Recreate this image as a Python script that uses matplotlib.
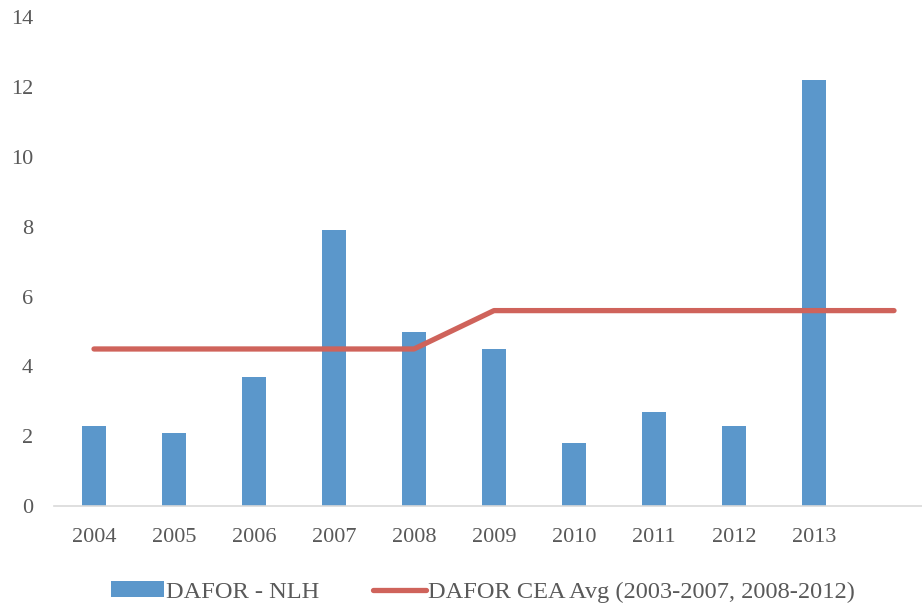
import matplotlib.pyplot as plt
import numpy as np

# DAFOR per year and CEA average reference line
years = ['2004', '2005', '2006', '2007', '2008', '2009', '2010', '2011', '2012', '2013', '']
dafor_nlh = [2.3, 2.1, 3.7, 7.9, 5.0, 4.5, 1.8, 2.7, 2.3, 12.2]
cea_avg = [4.5, 4.5, 4.5, 4.5, 4.5, 5.6, 5.6, 5.6, 5.6, 5.6, 5.6]

plt.rcParams['font.family'] = ['Liberation Serif', 'DejaVu Serif']
text_color = '#595959'

fig = plt.figure(figsize=(9.22, 6.09), dpi=100)
ax = fig.add_axes([54 / 922, 1 - 506 / 609, 880 / 922, (506 - 17.5) / 609])

x = np.arange(len(years))
ax.bar(x[:len(dafor_nlh)], dafor_nlh, width=0.3, color='#5B97CB', label='DAFOR - NLH', zorder=2)
ax.plot(x, cea_avg, color='#CF635B', linewidth=3.8, solid_capstyle='round',
        label='DAFOR CEA Avg (2003-2007, 2008-2012)', zorder=3)

ax.set_xlim(-0.5, len(years) - 0.5)
ax.set_ylim(0, 14)
ax.set_yticks(range(0, 15, 2))
ax.set_xticks(x)
ax.set_xticklabels(years)

for side in ['top', 'right', 'left']:
    ax.spines[side].set_visible(False)
ax.spines['bottom'].set_color('#D9D9D9')
ax.spines['bottom'].set_linewidth(1.2)
ax.tick_params(axis='both', length=0, labelsize=16, colors=text_color)
ax.tick_params(axis='y', pad=15)
ax.tick_params(axis='x', pad=16)

handles, labels = ax.get_legend_handles_labels()
order = [labels.index('DAFOR - NLH'), labels.index('DAFOR CEA Avg (2003-2007, 2008-2012)')]
leg = fig.legend([handles[i] for i in order], [labels[i] for i in order],
                 loc='center', bbox_to_anchor=(0.524, 1 - 592 / 609), ncol=2, frameon=False,
                 fontsize=17.6, handlelength=2.15, handleheight=0.65, columnspacing=2.2,
                 handletextpad=0.1, borderpad=0)
for t in leg.get_texts():
    t.set_color(text_color)

plt.savefig('out.png', dpi=100)
